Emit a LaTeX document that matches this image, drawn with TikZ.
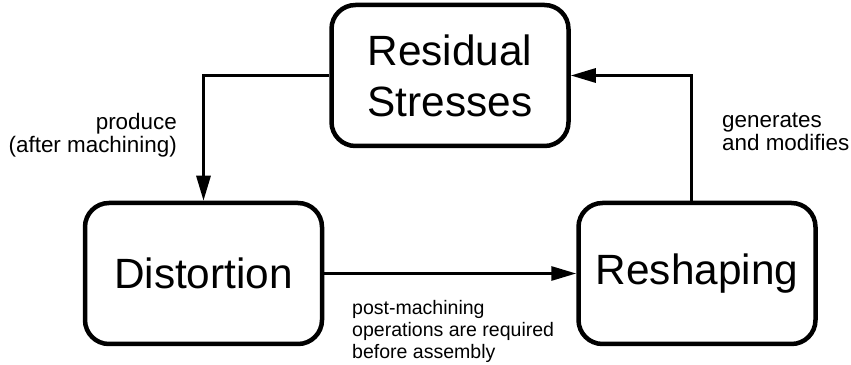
\documentclass[tikz,border=0pt]{standalone}
\usepackage{fontspec}
\setmainfont{Liberation Sans}
\usetikzlibrary{arrows.meta}

\begin{document}
\begin{tikzpicture}[y=1bp, x=1bp,
  box/.style={draw,rectangle,rounded corners=24bp,line width=4.5bp,
    minimum width=237bp,minimum height=141bp,align=center,
    font=\fontsize{42.5}{51}\selectfont},
  lbl/.style={inner sep=0pt,font=\fontsize{22.5}{22.5}\selectfont},
  arc/.style={line width=3bp,-{Triangle[length=25bp,width=14bp]}}]
\useasboundingbox (0bp,0bp) rectangle (851bp,365bp);
\begin{scope}
 % blocchi
  \node (rs) at (450bp, 289.5bp) [box] {Residual\\Stresses};
  \node (ds) at (203.5bp, 91.5bp) [box] {Distortion};
  \node (rp) at (697bp,  91.5bp) [box] {Reshaping};
 % etichette
  \node (l1) at (177bp, 230bp) [lbl,anchor=east,align=right] {produce\\(after machining)};
  \node (l2) at (722bp, 233bp) [lbl,anchor=west,align=left] {generates\\and modifies};
  \node (l3) at (352bp,  33.5bp) [lbl,anchor=west,align=left,font=\fontsize{19.6}{22.5}\selectfont] {post-machining\\operations are required\\before assembly};
 % frecce
  \draw[arc] (rs.west) -| (ds.north);
  \draw[arc] (ds.east) -- (rp.west);
  \draw[arc] ([xshift=-6bp]rp.north) |- (rs.east);
\end{scope}
\end{tikzpicture}
\end{document}
